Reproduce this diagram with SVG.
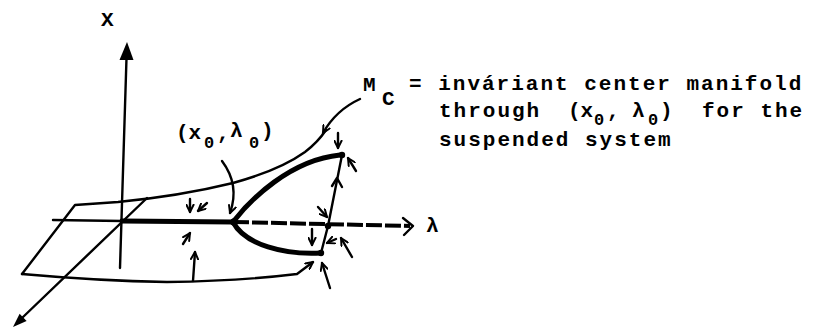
<svg xmlns="http://www.w3.org/2000/svg" width="824" height="328" viewBox="0 0 824 328">
<style>
.ln{stroke:#000;stroke-width:2.4;fill:none;stroke-linecap:round;stroke-linejoin:round}
.th{stroke:#000;stroke-width:5;fill:none;stroke-linecap:round;stroke-linejoin:round}
.fa{stroke:#000;stroke-width:2.4;fill:none;stroke-linecap:round;marker-end:url(#ah)}
.t{font-family:"Liberation Mono","Courier New",monospace;font-weight:bold;font-size:21px;fill:#000}
.tx{letter-spacing:2px}
.sb{font-size:17px}
</style>
<defs>
<marker id="ah" viewBox="0 0 10 10" refX="9" refY="5" markerWidth="9" markerHeight="9" markerUnits="userSpaceOnUse" orient="auto">
<path d="M1,1 L9,5 L1,9" stroke="#000" stroke-width="2.2" fill="none" stroke-linecap="round" stroke-linejoin="round"/>
</marker>
</defs>
<rect width="824" height="328" fill="#fff"/>

<g id="axes">
<path class="ln" d="M120,268 L126.5,58"/>
<polygon points="127,42 119.5,60 133.5,60" fill="#000"/>
<path class="ln" d="M147,198 L22,318"/>
<polygon points="13,327 26.6,320.9 19.6,313.7" fill="#000"/>
<path class="ln" d="M53,220 L122,221"/>
<path class="ln" d="M403,218 L413,226 L404,235"/>
</g>

<g id="plane">
<path class="ln" d="M22,274 L75,205 L118,202 Q180,196 233,183 Q280,170 305,152 Q318,142 326,130"/>
<path class="ln" d="M22,274 Q100,281 167,282 Q240,281 297,274 L313,262" marker-end="url(#ah)"/>
</g>

<g id="branches">
<path class="th" d="M122,221 L233,222"/>
<path d="M233,222 L410,226" stroke="#000" stroke-width="4" fill="none" stroke-dasharray="16 3"/>
<path class="th" d="M233,222 C250,200 290,160 340,155"/>
<path class="th" d="M233,222 C245,245 285,255 321,253"/>
<circle cx="234" cy="222" r="3.8" fill="#000"/>
<path class="ln" d="M328,226 L342,155 M328,226 L321,253"/>
<circle cx="342" cy="155" r="3.2" fill="#000"/>
<circle cx="328" cy="226" r="3.2" fill="#000"/>
<circle cx="321" cy="253" r="3.2" fill="#000"/>
<path class="ln" d="M332,186 L337,178 L342,187"/>
</g>

<g id="connectors">
<path class="fa" d="M360,99 Q336,110 323,133"/>
<path class="fa" d="M222,161 Q240,185 230,213"/>
<path class="fa" d="M190,199 L190,212"/>
<path class="fa" d="M207,203 L198,211"/>
<path class="fa" d="M183,244 L190,233"/>
<path class="fa" d="M193,281 L195,252"/>
<path class="fa" d="M318,207 L327,217"/>
<path class="fa" d="M312,229 L312,245"/>
<path class="fa" d="M336,239 L327,243"/>
<path class="fa" d="M352,257 L341,238"/>
<path class="fa" d="M330,288 L322,263"/>
<path class="fa" d="M338,133 L338,148"/>
<path class="fa" d="M356,171 L348,158"/>
</g>

<g id="labels">
<text class="t" x="101" y="26" font-size="22">X</text>
<text class="t" x="426" y="232">λ</text>
<text class="t" y="139"><tspan x="176">(x</tspan><tspan class="sb" x="204" dy="9">0</tspan><tspan x="217" dy="-9">,</tspan><tspan x="230" dy="-2">λ</tspan><tspan class="sb" x="249" dy="11">0</tspan><tspan x="261" dy="-11">)</tspan></text>
<text class="t" y="91"><tspan x="363">M</tspan><tspan x="382" dy="14">C</tspan></text>
<text class="t tx" x="409" y="90">= inváriant center manifold</text>
<text class="t" y="117"><tspan class="tx" x="439">through</tspan><tspan x="568">(x</tspan><tspan class="sb" x="594" dy="8">0</tspan><tspan x="607" dy="-8">,</tspan><tspan x="632">λ</tspan><tspan class="sb" x="648" dy="8">0</tspan><tspan x="660" dy="-8">)</tspan><tspan class="tx" x="702">for the</tspan></text>
<text class="t tx" x="439" y="146">suspended system</text>
</g>
</svg>
